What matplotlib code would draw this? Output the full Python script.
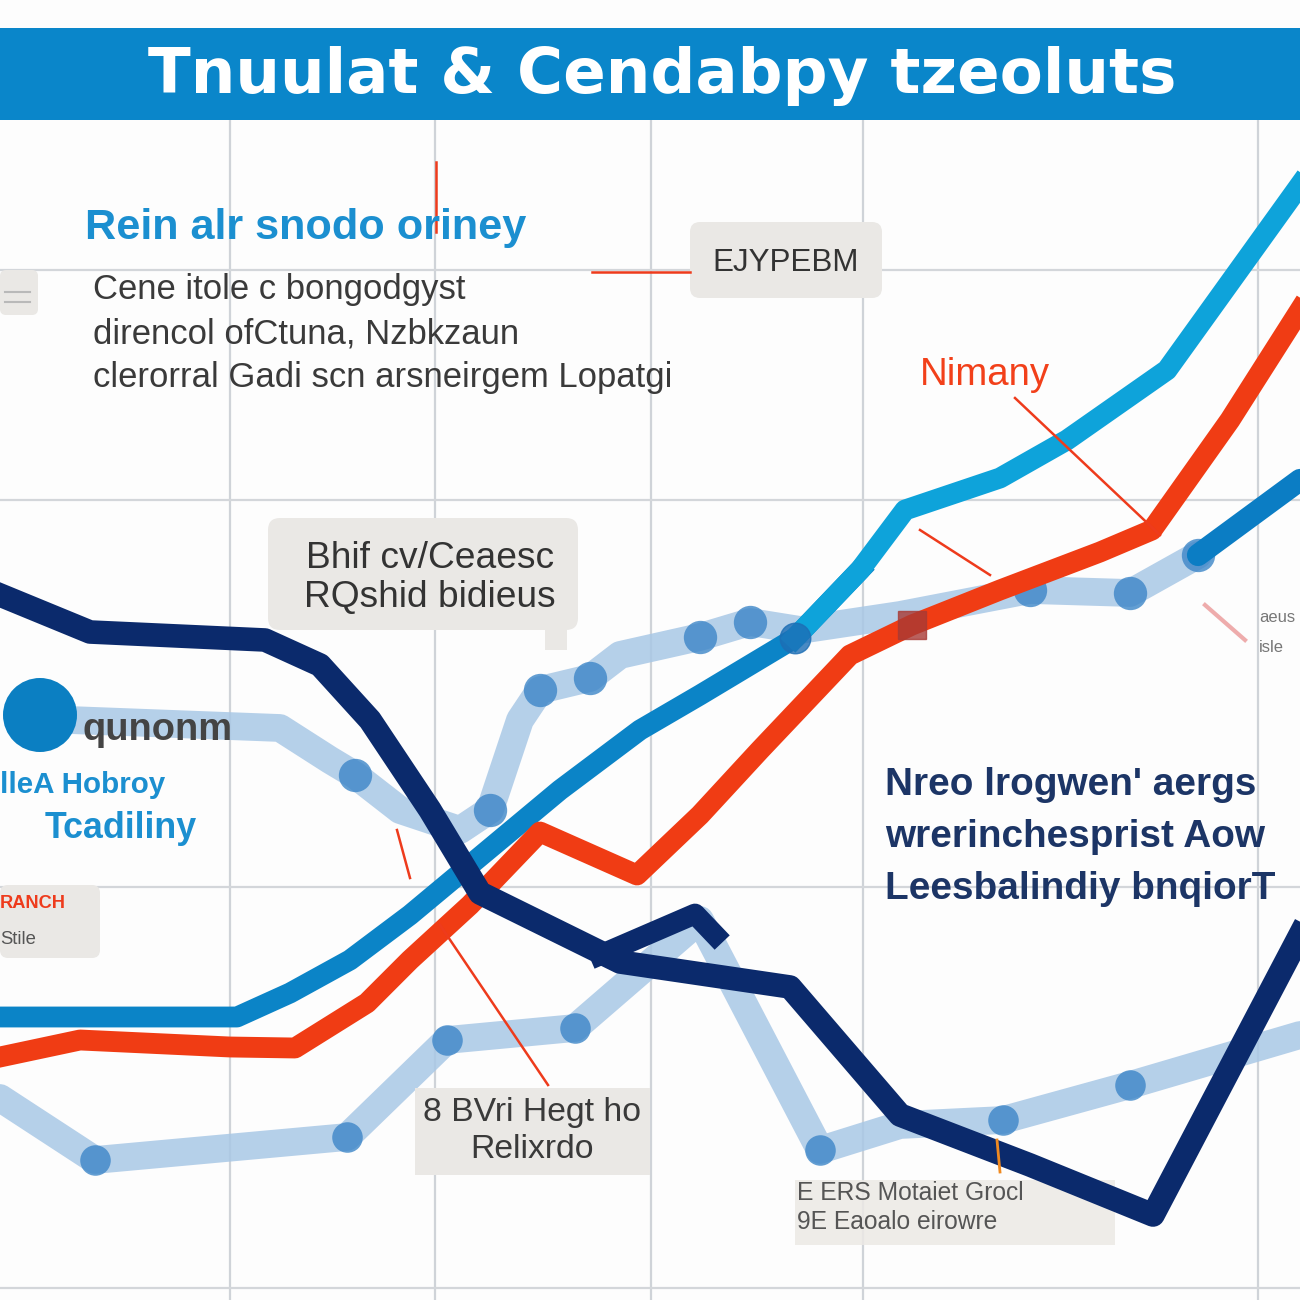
import matplotlib
matplotlib.use("Agg")
import matplotlib.pyplot as plt
from matplotlib.patches import FancyBboxPatch, Rectangle, Circle

# ---- data (chart units: x 0..1300, y 0..1300 downwards)
blue_x = [0, 237, 290, 350, 410, 470, 560, 640, 700, 795, 860]
blue_y = [1017, 1017, 993, 960, 915, 865, 790, 730, 695, 638, 570]

cyan_x = [795, 860, 905, 1000, 1067, 1167, 1300]
cyan_y = [638, 570, 510, 478, 440, 370, 185]

red_x = [0, 80, 230, 295, 367, 410, 470, 540, 637, 700, 760, 850, 912, 1000, 1100, 1152, 1230, 1300]
red_y = [1057, 1040, 1047, 1048, 1003, 960, 905, 832, 875, 815, 750, 655, 625, 590, 552, 530, 420, 310]

navy_x = [0, 90, 265, 320, 370, 430, 480, 620, 790, 900, 1030, 1153, 1300]
navy_y = [595, 632, 640, 665, 720, 810, 893, 962, 987, 1115, 1165, 1215, 935]

navy_spur_x = [600, 695, 715]
navy_spur_y = [955, 914, 935]

pale_a_x = [70, 280, 330, 355, 400, 460, 490, 520, 540, 590, 620, 700, 750, 800, 900, 1030, 1130, 1198]
pale_a_y = [720, 728, 760, 775, 810, 830, 810, 720, 690, 678, 655, 637, 622, 630, 615, 590, 593, 555]
pale_a_marks = [3, 6, 8, 9, 11, 12, 15, 16, 17]

tail_x = [1198, 1300]
tail_y = [555, 480]

pale_b_x = [0, 95, 347, 447, 575, 700, 820, 900, 1003, 1130, 1300]
pale_b_y = [1098, 1160, 1137, 1040, 1028, 920, 1150, 1125, 1120, 1085, 1035]
pale_b_marks = [1, 2, 3, 4, 6, 8, 9]

grid_vx = [230, 435, 651, 863, 1258]
grid_hy = [270, 500, 887, 1288]

title = "Tnuulat & Cendabpy tzeoluts"
subtitle = "Rein alr snodo oriney"
note_lines = ["Cene itole c bongodgyst", "direncol ofCtuna, Nzbkzaun",
              "clerorral Gadi scn arsneirgem Lopatgi"]
right_lines = ["Nreo lrogwen' aergs", "wrerinchesprist Aow", "Leesbalindiy bnqiorT"]
bubble_lines = ["Bhif cv/Ceaesc", "RQshid bidieus"]
bottom_lines = ["8 BVri Hegt ho", "Relixrdo"]
faint_lines = ["E ERS Motaiet Grocl", "9E Eaoalo eirowre"]
edge_lines = ["aeus", "isle"]

fig = plt.figure(figsize=(13, 13), dpi=100)
ax = fig.add_axes([0, 0, 1, 1])
ax.set_xlim(0, 1300)
ax.set_ylim(1300, 0)
ax.axis("off")
fig.patch.set_facecolor("#fdfdfd")
renderer = fig.canvas.get_renderer()


def fitted_size(s, width, **kw):
    t = ax.text(0, 0, s, fontsize=20, **kw)
    w = t.get_window_extent(renderer).width
    t.remove()
    return 20 * width / w


def put(x, y, s, width, ha="left", **kw):
    # size the text so that it spans the wanted width in pixels
    size = fitted_size(s, width, **{k: v for k, v in kw.items() if k in ("family", "fontweight")})
    return ax.text(x, y, s, ha=ha, va="center", fontsize=size, **kw)


def put_group(x, y0, dy, lines, widths, ha="left", **kw):
    # one common size for a block of lines
    fk = {k: v for k, v in kw.items() if k in ("family", "fontweight")}
    sizes = [fitted_size(s, w, **fk) for s, w in zip(lines, widths)]
    size = sum(sizes) / len(sizes)
    for i, s in enumerate(lines):
        ax.text(x, y0 + i * dy, s, ha=ha, va="center", fontsize=size, **kw)


def box(x0, y0, x1, y1, color="#eae8e5", rnd=10, z=3, alpha=1.0):
    p = FancyBboxPatch((x0 + rnd, y0 + rnd), x1 - x0 - 2 * rnd, y1 - y0 - 2 * rnd,
                       boxstyle=f"round,pad={rnd}", fc=color, ec="none", zorder=z, alpha=alpha)
    ax.add_patch(p)


# grid
for gx in grid_vx:
    ax.plot([gx, gx], [120, 1300], color="#cfd3d8", lw=1.6, zorder=0)
for gy in grid_hy:
    ax.plot([0, 1300], [gy, gy], color="#d3d6da", lw=1.6, zorder=0)

# title band
ax.add_patch(Rectangle((0, 28), 1300, 92, fc="#0a86ca", ec="none", zorder=1))
put(148, 76, title, 1027, color="white", fontweight="bold", family="DejaVu Sans", zorder=2)

# pale series
ax.plot(pale_a_x, pale_a_y, color="#a9c8e6", lw=20, alpha=0.85, solid_capstyle="round",
        solid_joinstyle="round", zorder=2)
ax.plot([pale_a_x[i] for i in pale_a_marks], [pale_a_y[i] for i in pale_a_marks], "o",
        ms=24, color="#3d86c8", alpha=0.8, mec="none", zorder=2.5)
ax.plot(pale_b_x, pale_b_y, color="#a9c8e6", lw=20, alpha=0.85, solid_capstyle="round",
        solid_joinstyle="round", zorder=2)
ax.plot([pale_b_x[i] for i in pale_b_marks], [pale_b_y[i] for i in pale_b_marks], "o",
        ms=22, color="#3d86c8", alpha=0.8, mec="none", zorder=2.5)
ax.plot(tail_x, tail_y, color="#0b7dc4", lw=16, solid_capstyle="round", zorder=4)

# main series
ax.plot(blue_x, blue_y, color="#0b84c7", lw=15, solid_joinstyle="round", zorder=4)
ax.plot(cyan_x, cyan_y, color="#0ea3da", lw=15, solid_joinstyle="round", zorder=4)
ax.plot(red_x, red_y, color="#f03c14", lw=15, solid_joinstyle="round", zorder=5)
ax.plot([red_x[12]], [red_y[12]], "s", ms=20, color="#a83a35", alpha=0.8, zorder=5.5)
ax.plot([blue_x[9]], [blue_y[9]], "o", ms=22, color="#1d6eb5", alpha=0.8, zorder=4.5)
ax.plot(navy_x, navy_y, color="#0b2a6c", lw=17, solid_joinstyle="round", zorder=6)
ax.plot(navy_spur_x, navy_spur_y, color="#0b2a6c", lw=15, solid_joinstyle="round", zorder=6)

# thin red pointer lines
for xs, ys in [([1015, 1160], [398, 535]), ([920, 990], [530, 575]), ([440, 548], [925, 1085]),
               ([592, 690], [272, 272]), ([436, 436], [162, 232]), ([397, 410], [830, 878])]:
    ax.plot(xs, ys, color="#ee3b1c", lw=1.8, zorder=7)
ax.plot([1205, 1245], [605, 640], color="#e88a8a", lw=3, alpha=0.7, zorder=7)
ax.plot([997, 1000], [1140, 1172], color="#f08a20", lw=2, zorder=7)

# texts upper left
put(85, 228, subtitle, 442, color="#1b8fd0", fontweight="bold", family="Liberation Sans", zorder=8)
put_group(93, 290, 44, note_lines, [404, 407, 550], color="#3a3a3a",
          family="Liberation Sans", zorder=8)

box(0, 270, 38, 315, rnd=6)
ax.plot([5, 30], [292, 292], color="#b9b9b9", lw=1.5, zorder=4)
ax.plot([5, 30], [302, 302], color="#b9b9b9", lw=1.5, zorder=4)

# labelled boxes
box(690, 222, 882, 298)
put(786, 263, "EJYPEBM", 146, ha="center", color="#333333", family="Liberation Sans", zorder=8)

box(268, 518, 578, 630, rnd=12)
ax.add_patch(Rectangle((545, 610), 22, 40, fc="#eae8e5", ec="none", zorder=3))
put_group(430, 558, 39, bubble_lines, [262, 236], ha="center", color="#333333",
          family="Liberation Sans", zorder=8)

ax.add_patch(Circle((40, 715), 37, fc="#0b7fc2", ec="none", zorder=7))
put(82, 730, "qunonm", 150, color="#444444", fontweight="bold", family="Liberation Sans", zorder=8)
put(0, 785, "lleA Hobroy", 165, color="#1b8fd0", fontweight="bold", family="Liberation Sans", zorder=8)
put(45, 828, "Tcadiliny", 152, color="#1b8fd0", fontweight="bold", family="Liberation Sans", zorder=8)

box(0, 885, 100, 958, rnd=8)
put(0, 903, "RANCH", 66, color="#ee3b1c", fontweight="bold", family="Liberation Sans", zorder=8)
put(0, 940, "Stile", 36, color="#555555", family="Liberation Sans", zorder=8)

ax.add_patch(Rectangle((415, 1088), 235, 87, fc="#eae8e5", ec="none", zorder=3))
put_group(532, 1113, 37, bottom_lines, [198, 135], ha="center", color="#3a3a3a",
          family="Liberation Sans", zorder=8)

ax.add_patch(Rectangle((795, 1180), 320, 65, fc="#ece9e5", ec="none", alpha=0.85, zorder=3))
put_group(797, 1193, 29, faint_lines, [215, 212], color="#555555",
          family="Liberation Sans", zorder=8)

put(920, 375, "Nimany", 130, color="#f2401a", family="Liberation Sans", zorder=8)

put_group(885, 785, 52, right_lines, [412, 368, 355], color="#1c3566", fontweight="bold",
          family="Liberation Sans", zorder=8)

put_group(1259, 617, 31, edge_lines, [34, 26], color="#777777",
          family="Liberation Sans", zorder=8)

fig.savefig("out.png", dpi=100, facecolor=fig.get_facecolor())
